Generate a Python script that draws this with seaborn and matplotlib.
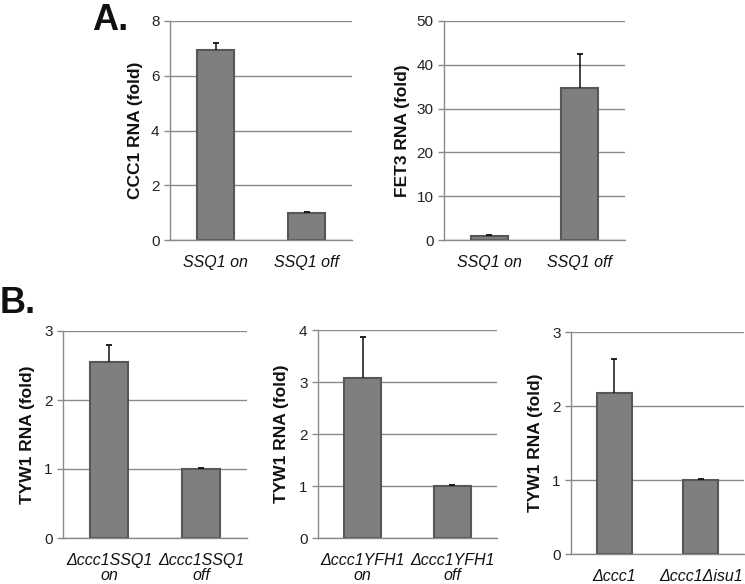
"""
Fold-change RNA bar panels (A: CCC1 / FET3, B: TYW1 in three strains)
"""

import matplotlib
matplotlib.use("Agg")
import matplotlib.pyplot as plt
import pandas as pd
import seaborn as sns

# ============================================================
# DATA
# ============================================================

a1_labels = ["SSQ1 on", "SSQ1 off"]
a1_values = [6.95, 1.0]
a1_errors = [0.25, 0.02]

a2_labels = ["SSQ1 on", "SSQ1 off"]
a2_values = [1.0, 34.6]
a2_errors = [0.15, 7.8]

b1_labels = ["\u0394ccc1SSQ1\non", "\u0394ccc1SSQ1\noff"]
b1_values = [2.55, 1.0]
b1_errors = [0.24, 0.01]

b2_labels = ["\u0394ccc1YFH1\non", "\u0394ccc1YFH1\noff"]
b2_values = [3.08, 1.0]
b2_errors = [0.78, 0.01]

b3_labels = ["\u0394ccc1", "\u0394ccc1\u0394isu1"]
b3_values = [2.17, 1.0]
b3_errors = [0.47, 0.01]

# ============================================================
# STYLE
# ============================================================

sns.set_theme(style="white")
plt.rcParams["font.family"] = ["Liberation Sans", "DejaVu Sans"]

BAR_FILL = "#7f7f7f"
BAR_EDGE = "#575757"
AXIS_GRAY = "#8a8a8a"

W, H = 745, 584
fig = plt.figure(figsize=(W / 100, H / 100), dpi=100)


def px_axes(left, top, right, bottom):
    return fig.add_axes([left / W, 1 - bottom / H, (right - left) / W, (bottom - top) / H])


def draw_panel(ax, labels, values, errors, ymax, ystep, ylabel, label_x):
    df = pd.DataFrame({"group": labels, "value": values})
    sns.barplot(data=df, x="group", y="value", order=labels, ax=ax,
                color=BAR_FILL, width=0.41, edgecolor=BAR_EDGE, linewidth=1.5,
                saturation=1, errorbar=None)

    # one-sided error bars, cap only on top
    xs = list(range(len(labels)))
    tops = [v + e for v, e in zip(values, errors)]
    ax.errorbar(xs, values, yerr=[[0] * len(errors), errors], fmt="none",
                ecolor="#111111", elinewidth=1.1, capsize=0, zorder=5)
    ax.plot(xs, tops, ls="none", marker="_", ms=5, mew=1.3, color="#111111", zorder=5)

    ax.set_xlim(-0.5, len(labels) - 0.5)
    ax.set_ylim(0, ymax)
    ticks = [i * ystep for i in range(int(round(ymax / ystep)) + 1)]
    ax.set_yticks(ticks)
    ax.set_yticklabels([str(t) for t in ticks])
    ax.yaxis.grid(True, color=AXIS_GRAY, linewidth=1.0)
    ax.set_axisbelow(True)

    for side in ["top", "right"]:
        ax.spines[side].set_visible(False)
    for side in ["left", "bottom"]:
        ax.spines[side].set_color(AXIS_GRAY)
        ax.spines[side].set_linewidth(1.0)

    # category boundary ticks (Excel style)
    ax.set_xticks(xs)
    ax.set_xticklabels(labels, fontstyle="italic", linespacing=1.0)
    ax.set_xticks([i - 0.5 for i in range(len(labels) + 1)], minor=True)
    ax.tick_params(axis="x", which="minor", length=5, width=1.0, color=AXIS_GRAY, direction="out")
    ax.tick_params(axis="x", which="major", length=0, pad=11, labelsize=11.5, labelcolor="#111111")
    ax.tick_params(axis="y", which="major", length=4, width=1.0, color=AXIS_GRAY,
                   direction="out", labelsize=11, labelcolor="#222222", left=True)

    ax.set_xlabel("")
    ax.set_ylabel(ylabel, fontsize=12.5, fontweight="bold", color="#111111")
    ax.yaxis.set_label_coords(label_x, 0.5)


# ============================================================
# PANELS
# ============================================================

ax_a1 = px_axes(170, 21, 352, 240)
draw_panel(ax_a1, a1_labels, a1_values, a1_errors, 8, 2, "CCC1 RNA (fold)", -0.148)

ax_a2 = px_axes(444, 21, 625, 240)
draw_panel(ax_a2, a2_labels, a2_values, a2_errors, 50, 10, "FET3 RNA (fold)", -0.188)

ax_b1 = px_axes(63, 331, 247, 538)
draw_panel(ax_b1, b1_labels, b1_values, b1_errors, 3, 1, "TYW1 RNA (fold)", -0.152)

ax_b2 = px_axes(318, 330, 497, 538)
draw_panel(ax_b2, b2_labels, b2_values, b2_errors, 4, 1, "TYW1 RNA (fold)", -0.162)

ax_b3 = px_axes(571, 332, 744, 554)
draw_panel(ax_b3, b3_labels, b3_values, b3_errors, 3, 1, "TYW1 RNA (fold)", -0.162)

fig.text(92 / W, 1 - 3 / H, "A.", fontsize=26, fontweight="bold", ha="left", va="top", color="#111111")
fig.text(0 / W, 1 - 286 / H, "B.", fontsize=26, fontweight="bold", ha="left", va="top", color="#111111")

fig.savefig("out.png", dpi=100)
